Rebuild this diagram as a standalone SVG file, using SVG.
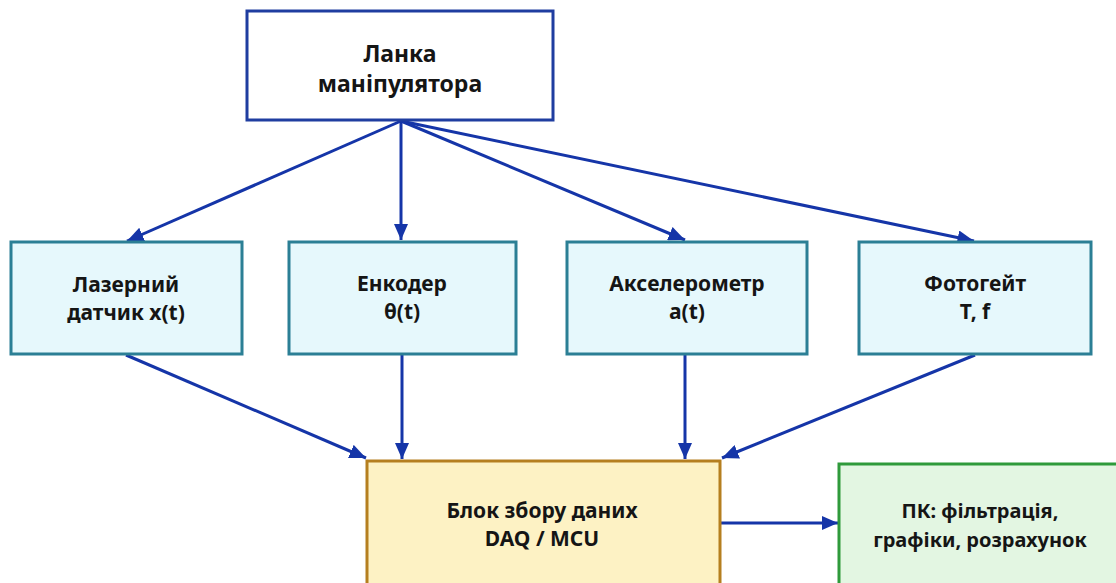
<svg xmlns="http://www.w3.org/2000/svg" width="1116" height="583" viewBox="0 0 1116 583">
<defs>
<marker id="ah" viewBox="0 0 10 10" refX="10" refY="5" markerWidth="5.5" markerHeight="4.8" orient="auto" markerUnits="strokeWidth" preserveAspectRatio="none">
<path d="M0,0 L10,5 L0,10 Z" fill="#1535a8"/>
</marker>
<style>
.t{font-family:"Noto Sans","Open Sans","DejaVu Sans",sans-serif;font-weight:bold;fill:#151515;text-anchor:middle}
.top{fill:#ffffff;stroke:#1f3da0;stroke-width:3}
.sen{fill:#e6f8fc;stroke:#2b7f95;stroke-width:3}
.daq{fill:#fdf2c4;stroke:#b57f1f;stroke-width:3}
.pc{fill:#e3f6e2;stroke:#2f9a3b;stroke-width:3}
.c{stroke:#1535a8;stroke-width:3;fill:none;marker-end:url(#ah)}
</style>
</defs>
<rect width="1116" height="583" fill="#ffffff"/>
<g id="connectors">
<line class="c" x1="401" y1="121" x2="127" y2="241"/>
<line class="c" x1="401" y1="121" x2="401" y2="240"/>
<line class="c" x1="401" y1="121" x2="685" y2="240"/>
<line class="c" x1="401" y1="121" x2="974" y2="241"/>
<line class="c" x1="126" y1="355" x2="366" y2="458"/>
<line class="c" x1="402" y1="355" x2="402" y2="459"/>
<line class="c" x1="685" y1="355" x2="685" y2="459"/>
<line class="c" x1="975" y1="355" x2="722" y2="458"/>
<line class="c" x1="721" y1="523" x2="838" y2="523"/>
</g>
<g id="link">
<rect class="top" x="247" y="11" width="306" height="109"/>
<text class="t" x="400" y="62" font-size="23">Ланка</text>
<text class="t" x="400" y="92" font-size="23">маніпулятора</text>
</g>
<g id="laser">
<rect class="sen" x="11" y="242" width="231" height="112"/>
<text class="t" x="126" y="292" font-size="21">Лазерний</text>
<text class="t" x="126" y="320" font-size="21">датчик x(t)</text>
</g>
<g id="encoder">
<rect class="sen" x="289" y="242" width="227" height="112"/>
<text class="t" x="402" y="291" font-size="21">Енкодер</text>
<text class="t" x="402" y="319" font-size="21">θ(t)</text>
</g>
<g id="accel">
<rect class="sen" x="567" y="242" width="240" height="112"/>
<text class="t" x="687" y="291" font-size="21">Акселерометр</text>
<text class="t" x="687" y="319" font-size="21">a(t)</text>
</g>
<g id="photogate">
<rect class="sen" x="859" y="242" width="232" height="112"/>
<text class="t" x="975" y="291" font-size="21">Фотогейт</text>
<text class="t" x="975" y="319" font-size="21">T, f</text>
</g>
<g id="daq">
<rect class="daq" x="367" y="461" width="353" height="140"/>
<text class="t" x="542" y="518" font-size="21">Блок збору даних</text>
<text class="t" x="542" y="546" font-size="21">DAQ / MCU</text>
</g>
<g id="pc">
<rect class="pc" x="839" y="464" width="300" height="140"/>
<text class="t" x="980" y="518" font-size="20">ПК: фільтрація,</text>
<text class="t" x="980" y="547" font-size="20">графіки, розрахунок</text>
</g>
</svg>
